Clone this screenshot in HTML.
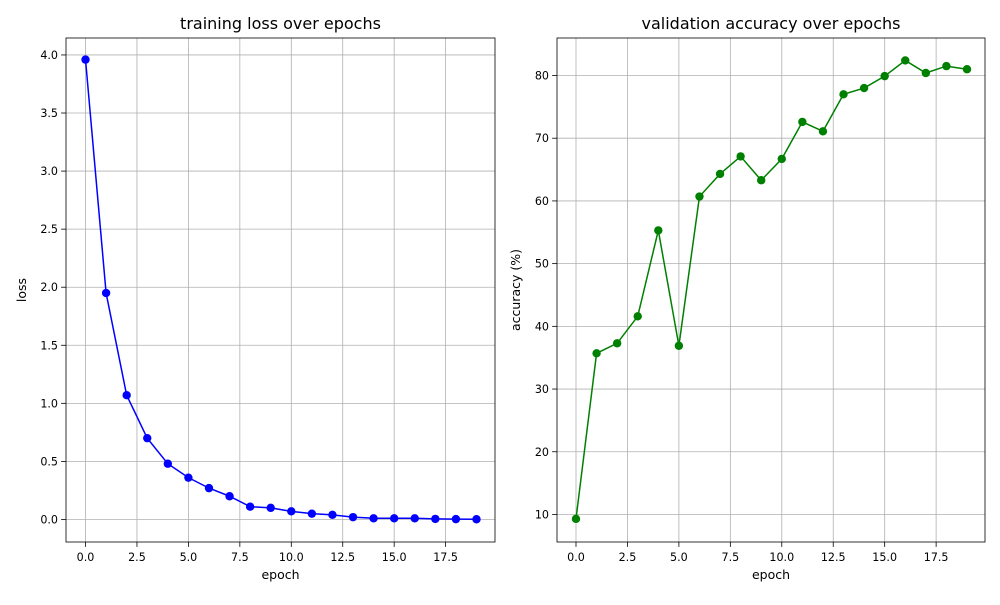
<!DOCTYPE html>
<html><head><meta charset="utf-8"><style>
body{margin:0;background:#fff;font-family:"Liberation Sans","DejaVu Sans",sans-serif;}
svg text{font-family:"DejaVu Sans","Liberation Sans",sans-serif;}
</style></head><body>
<svg id="c" width="1000" height="600" xmlns="http://www.w3.org/2000/svg"></svg>
<script>
const epochs=[0,1,2,3,4,5,6,7,8,9,10,11,12,13,14,15,16,17,18,19];
const lossValues=[3.96,1.95,1.07,0.70,0.48,0.36,0.27,0.20,0.11,0.10,0.07,0.05,0.04,0.02,0.01,0.01,0.01,0.005,0.003,0.002];
const accValues=[9.3,35.7,37.3,41.6,55.3,36.9,60.7,64.3,67.1,63.3,66.7,72.6,71.1,77.0,78.0,79.9,82.4,80.4,81.5,81.0];
const xTicks=[0,2.5,5,7.5,10,12.5,15,17.5];
const xTickLabels=["0.0","2.5","5.0","7.5","10.0","12.5","15.0","17.5"];
const lossTicks=[0,0.5,1,1.5,2,2.5,3,3.5,4];
const lossTickLabels=["0.0","0.5","1.0","1.5","2.0","2.5","3.0","3.5","4.0"];
const accTicks=[10,20,30,40,50,60,70,80];
const accTickLabels=["10","20","30","40","50","60","70","80"];

const svg=document.getElementById('c');
const NS='http://www.w3.org/2000/svg';
function mk(t,a,p){const e=document.createElementNS(NS,t);for(const k in a)e.setAttribute(k,a[k]);(p||svg).appendChild(e);return e;}
function panel(o){
  const g=mk('g',{});
  
  
  const X=v=>o.x0+(v-o.xmin)/(o.xmax-o.xmin)*(o.x1-o.x0);
  const Y=v=>o.y1-(v-o.ymin)/(o.ymax-o.ymin)*(o.y1-o.y0);
  xTicks.forEach((t,i)=>{
    const x=X(t);
    mk('line',{x1:x,x2:x,y1:o.y0,y2:o.y1,stroke:'#b0b0b0','stroke-width':0.8},g);
    mk('line',{x1:x,x2:x,y1:o.y1,y2:o.y1+4.9,stroke:'#000','stroke-width':0.8},g);
    const tx=mk('text',{x:x,y:o.y1+19,'font-size':13.9*0.8,'text-anchor':'middle'},g);tx.textContent=xTickLabels[i];
    
    
  });
  o.yt.forEach((t,i)=>{
    const y=Y(t);
    mk('line',{x1:o.x0,x2:o.x1,y1:y,y2:y,stroke:'#b0b0b0','stroke-width':0.8},g);
    mk('line',{x1:o.x0-4.9,x2:o.x0,y1:y,y2:y,stroke:'#000','stroke-width':0.8},g);
    const tx=mk('text',{x:o.x0-8,y:y+4,'font-size':13.9*0.8,'text-anchor':'end'},g);tx.textContent=o.ytl[i];
    
    
  });
  const pts=epochs.map((e,i)=>X(e)+','+Y(o.vals[i])).join(' ');
  const pl=mk('polyline',{points:pts,fill:'none',stroke:o.color,'stroke-width':1.5},g);
  
  
  epochs.forEach((e,i)=>{
    const c=mk('circle',{cx:X(e),cy:Y(o.vals[i]),r:4.2,fill:o.color},g);
    
    
  });
  mk('rect',{x:o.x0,y:o.y0,width:o.x1-o.x0,height:o.y1-o.y0,fill:'none',stroke:'#000','stroke-width':0.8},g);
  const ti=mk('text',{x:(o.x0+o.x1)/2,y:o.y0-9,'font-size':16,'text-anchor':'middle'},g);ti.textContent=o.title;
  
  
  const xl=mk('text',{x:(o.x0+o.x1)/2,y:o.y1+37,'font-size':12.5,'text-anchor':'middle'},g);xl.textContent='epoch';
  
  
  const yx=o.ylx, yy=(o.y0+o.y1)/2;
  const yl=mk('text',{x:yx,y:yy,'font-size':12.5,'text-anchor':'middle',transform:`rotate(-90 ${yx} ${yy})`},g);yl.textContent=o.ylabel;
  
  
}
panel({name:'loss-chart',x0:66,x1:495,y0:38,y1:542,xmin:-0.9485,xmax:19.9,ymin:-0.194,ymax:4.146,yt:lossTicks,ytl:lossTickLabels,vals:lossValues,color:'#0000ff',title:'training loss over epochs',ylabel:'loss',ylx:26});
panel({name:'accuracy-chart',x0:557,x1:985,y0:38,y1:542,xmin:-0.923,xmax:19.875,ymin:5.61,ymax:85.98,yt:accTicks,ytl:accTickLabels,vals:accValues,color:'#008000',title:'validation accuracy over epochs',ylabel:'accuracy (%)',ylx:520});
</script>
</body></html>
